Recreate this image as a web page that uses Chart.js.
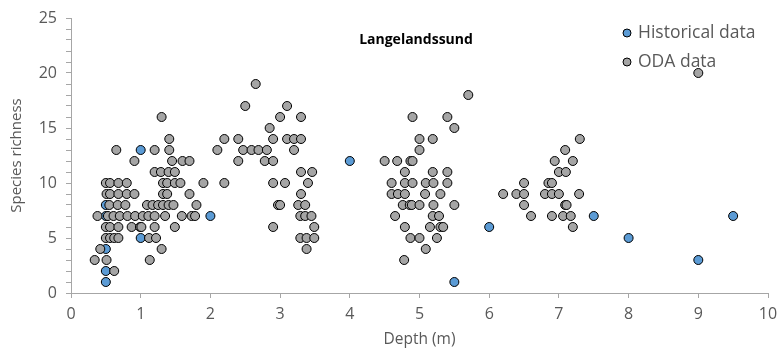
<!DOCTYPE html>
<html>
<head>
<meta charset="utf-8">
<script src="https://cdn.jsdelivr.net/npm/chart.js@4"></script>
<style>
  html, body { margin: 0; padding: 0; background: #fff; }
</style>
</head>
<body>
<canvas id="myChart" width="778" height="352"></canvas>
<script>
// depth (m) vs species richness, Langelandssund
var chartTitle = 'Langelandssund';

var histDepth    = [0.5, 0.5, 0.5, 0.5, 0.5, 1, 1, 2, 4, 5.5, 6, 7.5, 8, 9, 9.5];
var histRichness = [1, 2, 4, 7, 8, 5, 13, 7, 12, 1, 6, 7, 5, 3, 7];

var odaDepth = [
  0.34, 0.42, 0.38, 0.5, 0.56, 0.68, 0.8, 0.51, 0.56, 0.68, 0.8, 0.91,
  0.55, 0.67, 0.78, 0.53, 0.61, 0.7, 0.81, 0.92, 0.5, 0.56, 0.68, 0.87, 0.99,
  0.5, 0.56, 0.62, 0.68, 0.51, 0.62, 0.65, 0.91,
  1.3, 1.41, 1.2, 1.41, 1.45, 1.6, 1.7, 1.2, 1.29, 1.4, 1.49,
  1.32, 1.38, 1.49, 1.57, 1.9, 1.32, 1.38, 1.7,
  1.09, 1.17, 1.25, 1.32, 1.4, 1.47, 1.8,
  1.03, 1.11, 1.2, 1.35, 1.59, 1.73, 1.78,
  1.01, 1.2, 1.49, 1.12, 1.22, 1.3, 1.13,
  2.65, 2.5, 3.1, 3.0, 3.3, 2.85,
  2.2, 2.4, 2.9, 3.1, 3.2, 3.3,
  2.1, 2.47, 2.59, 2.69, 2.81, 3.2,
  2.4, 2.78, 2.9, 3.3, 3.46,
  2.2, 2.9, 3.07, 3.4, 3.3,
  2.97, 3.0, 3.26, 3.36, 3.29, 3.36, 3.45,
  2.9, 3.49, 3.29, 3.38, 3.49, 3.38,
  5.7, 4.9, 5.4, 5.5, 5.0, 5.19, 5.0,
  4.5, 4.68, 4.87, 4.9, 4.79, 5.19, 5.4,
  4.6, 4.79, 4.9, 5.09, 5.2, 5.4,
  4.6, 4.69, 4.79, 5.08, 5.3,
  4.76, 4.86, 4.89, 5.0, 5.2, 5.5,
  4.65, 5.19, 5.28, 4.79, 5.15, 5.3, 5.34,
  4.87, 5.0, 5.25, 5.09, 4.78,
  6.2, 7.3, 7.09, 6.94, 7.2, 7.0, 7.1,
  6.5, 6.85, 6.9, 6.39, 6.5, 6.8, 6.9, 7.0, 7.29,
  6.5, 7.09, 7.11, 6.6, 6.9, 7.06, 7.17, 7.2,
  9.0
];
var odaRichness = [
  3, 4, 7, 10, 10, 10, 10, 9, 9, 9, 9, 9,
  8, 8, 8, 7, 7, 7, 7, 7, 6, 6, 6, 6, 6,
  5, 5, 5, 5, 3, 2, 13, 12,
  16, 14, 13, 13, 12, 12, 12, 11, 11, 11, 11,
  10, 10, 10, 10, 10, 9, 9, 9,
  8, 8, 8, 8, 8, 8, 8,
  7, 7, 7, 7, 7, 7, 7,
  6, 6, 6, 5, 5, 4, 3,
  19, 17, 17, 16, 16, 15,
  14, 14, 14, 14, 14, 14,
  13, 13, 13, 13, 13, 13,
  12, 12, 12, 11, 11,
  10, 10, 10, 10, 9,
  8, 8, 8, 8, 7, 7, 7,
  6, 6, 5, 5, 5, 4,
  18, 16, 16, 15, 14, 14, 13,
  12, 12, 12, 12, 11, 11, 11,
  10, 10, 10, 10, 10, 10,
  9, 9, 9, 9, 9,
  8, 8, 8, 8, 8, 8,
  7, 7, 7, 6, 6, 6, 6,
  5, 5, 5, 4, 3,
  9, 14, 13, 12, 12, 11, 11,
  10, 10, 10, 9, 9, 9, 9, 9, 9,
  8, 8, 8, 7, 7, 7, 7, 6,
  20
];

function toPoints(xs, ys) {
  return xs.map(function(x, i) { return { x: x, y: ys[i] }; });
}

var axisColor = '#A6A6A6';
var textColor = '#595959';
var font = 'Open Sans';

// title + legend sit inside the plot area
var overlay = {
  id: 'overlay',
  afterDraw: function(chart) {
    var c = chart.ctx;
    c.save();
    c.font = 'bold 14px ' + font;
    c.fillStyle = '#000';
    c.textAlign = 'center';
    c.textBaseline = 'middle';
    c.fillText(chartTitle, 416, 40);

    chart.data.datasets.forEach(function(ds, i) {
      var y = 33 + i * 29;
      c.beginPath();
      c.arc(627, y, 4, 0, Math.PI * 2);
      c.fillStyle = ds.backgroundColor;
      c.fill();
      c.lineWidth = 1;
      c.strokeStyle = ds.borderColor;
      c.stroke();
      c.font = '17.5px ' + font;
      c.fillStyle = textColor;
      c.textAlign = 'left';
      c.fillText(ds.label, 638, y);
    });
    c.restore();
  }
};

var ctx = document.getElementById('myChart').getContext('2d');

// eslint-disable-next-line no-unused-vars
var chart = new Chart(ctx, {
  type: 'scatter',
  data: {
    datasets: [{
      label: 'Historical data',
      data: toPoints(histDepth, histRichness),
      backgroundColor: '#5B9BD5',
      borderColor: '#000',
      borderWidth: 1,
      pointRadius: 4.5,
      order: 2
    },
    {
      label: 'ODA data',
      data: toPoints(odaDepth, odaRichness),
      backgroundColor: '#A5A5A5',
      borderColor: '#000',
      borderWidth: 1,
      pointRadius: 4.5,
      order: 1
    }]
  },
  options: {
    responsive: false,
    animation: false,
    layout: { autoPadding: false, padding: { top: 18, right: 10, left: 0, bottom: 0 } },
    plugins: {
      legend: { display: false },
      tooltip: { enabled: false }
    },
    scales: {
      x: {
        type: 'linear',
        min: 0,
        max: 10,
        afterFit: function(s) {
          s.height = 59;
          s.paddingLeft = 0;
          s.paddingRight = 0;
        },
        border: { display: true, color: axisColor },
        grid: { drawOnChartArea: false, drawTicks: true, tickLength: 5, color: axisColor },
        ticks: { stepSize: 1, padding: 7, color: textColor, font: { family: font, size: 16 } },
        title: { display: true, text: 'Depth (m)', color: textColor, font: { family: font, size: 15.5 }, padding: { top: 0, bottom: 3 } }
      },
      y: {
        min: 0,
        max: 25,
        afterFit: function(s) {
          s.width = 71;
          s.paddingTop = 0;
          s.paddingBottom = 0;
        },
        border: { display: true, color: axisColor },
        grid: { drawOnChartArea: false, drawTicks: true, tickLength: 5, color: axisColor },
        ticks: {
          stepSize: 1,
          autoSkip: false,
          padding: 9,
          color: textColor,
          font: { family: font, size: 16 },
          callback: function(v) { return v % 5 === 0 ? v : ''; }
        },
        title: { display: true, text: 'Species richness', color: textColor, font: { family: font, size: 15 }, padding: { top: 8, bottom: 0 } }
      }
    }
  },
  plugins: [overlay]
});
</script>
</body>
</html>
